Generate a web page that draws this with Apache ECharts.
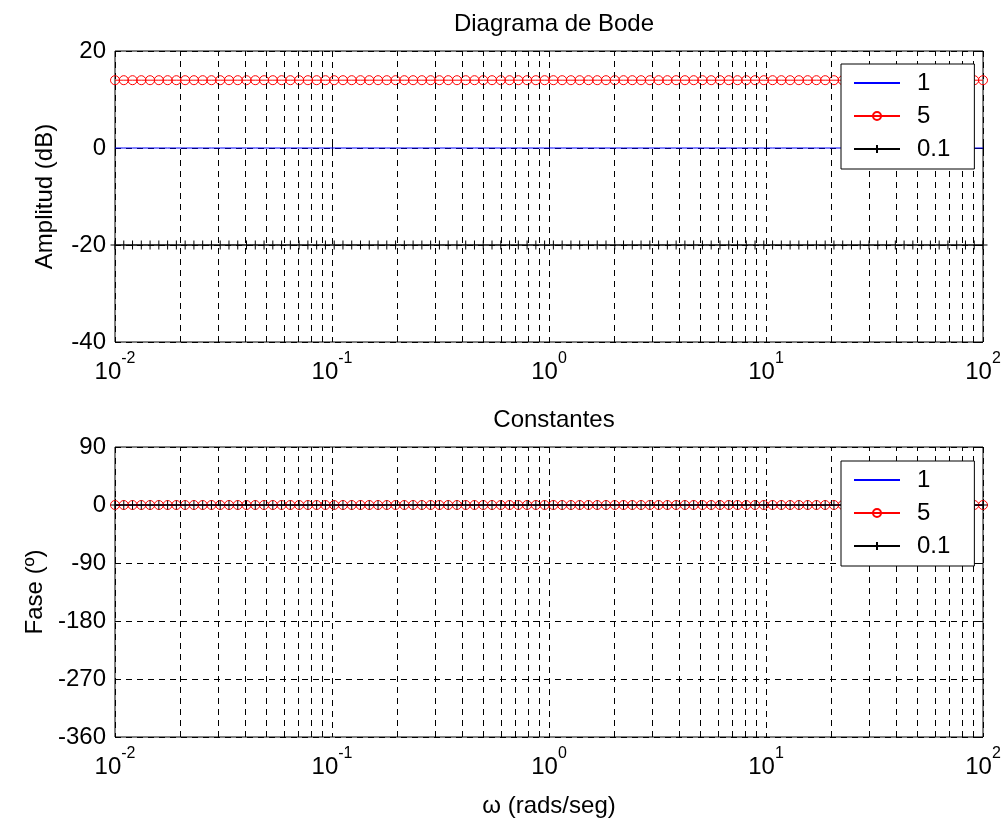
<!DOCTYPE html>
<html>
<head>
<meta charset="utf-8">
<script src="https://cdn.jsdelivr.net/npm/echarts@6/dist/echarts.min.js"></script>
<style>
html,body{margin:0;padding:0;background:#fff;}
#chart{width:1007px;height:821px;}
</style>
</head>
<body>
<div id="chart"></div>
<script>
// Frequency vector (rad/s), 100 log-spaced points from 1e-2 to 1e2
const omega = [
0.01,0.010975,0.012045,0.013219,0.014508,0.015923,0.017475,0.019179,0.021049,0.023101,
0.025354,0.027826,0.030539,0.033516,0.036784,0.04037,0.044306,0.048626,0.053367,0.05857,
0.064281,0.070548,0.077426,0.084975,0.09326,
0.10235,0.11233,0.12328,0.1353,0.14849,0.16298,0.17886,0.1963,0.21544,0.23645,
0.25951,0.28481,0.31258,0.34305,0.3765,0.4132,0.45349,0.4977,0.54623,0.59948,
0.65794,0.72208,0.79248,0.86975,0.95454,
1.0476,1.1498,1.2619,1.3848,1.5199,1.6681,1.8307,2.0092,2.2051,2.4201,
2.6561,2.9151,3.1993,3.5113,3.8535,4.2292,4.6416,5.0941,5.5908,6.1359,
6.7342,7.3907,8.1113,8.9021,9.77,
10.723,11.768,12.916,14.174,15.556,17.074,18.738,20.565,22.57,24.771,
27.186,29.837,32.746,35.938,39.442,43.287,47.508,52.14,57.224,62.802,
68.926,75.647,83.021,91.117,100
];

// Magnitude (dB) for gains 1, 5, 0.1
const mag_1 = [
0,0,0,0,0,0,0,0,0,0, 0,0,0,0,0,0,0,0,0,0, 0,0,0,0,0,0,0,0,0,0, 0,0,0,0,0,0,0,0,0,0, 0,0,0,0,0,0,0,0,0,0,
0,0,0,0,0,0,0,0,0,0, 0,0,0,0,0,0,0,0,0,0, 0,0,0,0,0,0,0,0,0,0, 0,0,0,0,0,0,0,0,0,0, 0,0,0,0,0,0,0,0,0,0
];
const mag_5 = [
13.98,13.98,13.98,13.98,13.98,13.98,13.98,13.98,13.98,13.98,
13.98,13.98,13.98,13.98,13.98,13.98,13.98,13.98,13.98,13.98,
13.98,13.98,13.98,13.98,13.98,13.98,13.98,13.98,13.98,13.98,
13.98,13.98,13.98,13.98,13.98,13.98,13.98,13.98,13.98,13.98,
13.98,13.98,13.98,13.98,13.98,13.98,13.98,13.98,13.98,13.98,
13.98,13.98,13.98,13.98,13.98,13.98,13.98,13.98,13.98,13.98,
13.98,13.98,13.98,13.98,13.98,13.98,13.98,13.98,13.98,13.98,
13.98,13.98,13.98,13.98,13.98,13.98,13.98,13.98,13.98,13.98,
13.98,13.98,13.98,13.98,13.98,13.98,13.98,13.98,13.98,13.98,
13.98,13.98,13.98,13.98,13.98,13.98,13.98,13.98,13.98,13.98
];
const mag_01 = [
-20,-20,-20,-20,-20,-20,-20,-20,-20,-20, -20,-20,-20,-20,-20,-20,-20,-20,-20,-20,
-20,-20,-20,-20,-20,-20,-20,-20,-20,-20, -20,-20,-20,-20,-20,-20,-20,-20,-20,-20,
-20,-20,-20,-20,-20,-20,-20,-20,-20,-20, -20,-20,-20,-20,-20,-20,-20,-20,-20,-20,
-20,-20,-20,-20,-20,-20,-20,-20,-20,-20, -20,-20,-20,-20,-20,-20,-20,-20,-20,-20,
-20,-20,-20,-20,-20,-20,-20,-20,-20,-20, -20,-20,-20,-20,-20,-20,-20,-20,-20,-20
];

// Phase (degrees) for gains 1, 5, 0.1
const phase_1 = [
0,0,0,0,0,0,0,0,0,0, 0,0,0,0,0,0,0,0,0,0, 0,0,0,0,0,0,0,0,0,0, 0,0,0,0,0,0,0,0,0,0, 0,0,0,0,0,0,0,0,0,0,
0,0,0,0,0,0,0,0,0,0, 0,0,0,0,0,0,0,0,0,0, 0,0,0,0,0,0,0,0,0,0, 0,0,0,0,0,0,0,0,0,0, 0,0,0,0,0,0,0,0,0,0
];
const phase_5 = [
0,0,0,0,0,0,0,0,0,0, 0,0,0,0,0,0,0,0,0,0, 0,0,0,0,0,0,0,0,0,0, 0,0,0,0,0,0,0,0,0,0, 0,0,0,0,0,0,0,0,0,0,
0,0,0,0,0,0,0,0,0,0, 0,0,0,0,0,0,0,0,0,0, 0,0,0,0,0,0,0,0,0,0, 0,0,0,0,0,0,0,0,0,0, 0,0,0,0,0,0,0,0,0,0
];
const phase_01 = [
0,0,0,0,0,0,0,0,0,0, 0,0,0,0,0,0,0,0,0,0, 0,0,0,0,0,0,0,0,0,0, 0,0,0,0,0,0,0,0,0,0, 0,0,0,0,0,0,0,0,0,0,
0,0,0,0,0,0,0,0,0,0, 0,0,0,0,0,0,0,0,0,0, 0,0,0,0,0,0,0,0,0,0, 0,0,0,0,0,0,0,0,0,0, 0,0,0,0,0,0,0,0,0,0
];

const seriesNames = ['1', '5', '0.1'];
const xTickExp = ['-2', '-1', '0', '1', '2'];
const minorGrid = [
0.02,0.03,0.04,0.05,0.06,0.07,0.08,0.09,
0.2,0.3,0.4,0.5,0.6,0.7,0.8,0.9,
2,3,4,5,6,7,8,9,
20,30,40,50,60,70,80,90
];
const titles = ['Diagrama de Bode', 'Constantes'];
const yNames = ['Amplitud (dB)', 'Fase (º)'];
const xName = 'ω (rads/seg)';

const FONT = '"Liberation Sans", Arial, sans-serif';
const FS = 24;
const dash = [6, 5];

function pairs(xs, ys) { return xs.map((x, i) => [x, ys[i]]); }

const plusPath = 'path://M5,0L5,10M0,5L10,5';
const tickStyle = { show: true, inside: true, length: 6, lineStyle: { color: '#000', width: 1 } };

function xAxisCfg(gi, showName) {
  return {
    type: 'log', logBase: 10, min: 0.01, max: 100, gridIndex: gi,
    axisLine: { show: false },
    axisTick: tickStyle,
    minorTick: { show: false },
    splitLine: { show: true, lineStyle: { color: '#000', type: dash, width: 1 } },
    axisLabel: {
      margin: 16, color: '#000', fontFamily: FONT,
      formatter: function (v, idx) { return '{b|10}{s|' + xTickExp[idx] + '}'; },
      rich: {
        b: { fontSize: FS, lineHeight: 26, verticalAlign: 'bottom', fontFamily: FONT, color: '#000' },
        s: { fontSize: 16, lineHeight: 18, verticalAlign: 'bottom', padding: [0, 0, 17, 0], fontFamily: FONT, color: '#000' }
      }
    },
    name: showName ? xName : '', nameLocation: 'middle', nameGap: 57,
    nameTextStyle: { fontSize: FS, fontFamily: FONT, color: '#000' }
  };
}
function xAxisTopCfg(gi) {
  return {
    type: 'log', logBase: 10, min: 0.01, max: 100, gridIndex: gi, position: 'top',
    axisLine: { show: false }, axisTick: tickStyle, axisLabel: { show: false },
    splitLine: { show: false }, minorTick: { show: false }
  };
}

function yAxisCfg(gi, min, max, interval, name) {
  return {
    type: 'value', gridIndex: gi, min: min, max: max, interval: interval,
    axisLine: { show: false },
    axisTick: tickStyle,
    splitLine: { show: true, lineStyle: { color: '#000', type: dash, width: 1 } },
    axisLabel: { margin: 9, fontSize: FS, color: '#000', fontFamily: FONT },
    name: name, nameLocation: 'middle', nameGap: 58, nameRotate: 90,
    nameTextStyle: { fontSize: FS, fontFamily: FONT, color: '#000' }
  };
}
function yAxisRightCfg(gi, min, max, interval) {
  return {
    type: 'value', gridIndex: gi, min: min, max: max, interval: interval, position: 'right',
    axisLine: { show: false }, axisTick: tickStyle, axisLabel: { show: false },
    splitLine: { show: false }
  };
}

function makeSeries(gi, v1, v5, v01) {
  return [
    {
      type: 'line', name: 'grid' + gi, xAxisIndex: gi, yAxisIndex: gi, data: [], z: 1,
      silent: true,
      markLine: {
        silent: true, symbol: 'none', animation: false,
        label: { show: false },
        lineStyle: { color: '#000', type: dash, width: 1 },
        data: minorGrid.map(v => ({ xAxis: v }))
      }
    },
    {
      type: 'line', name: seriesNames[0], xAxisIndex: gi, yAxisIndex: gi, z: 3,
      data: pairs(omega, v1), symbol: 'none', showSymbol: false,
      lineStyle: { color: '#0000ff', width: 1 },
      itemStyle: { color: 'rgba(0,0,0,0)' }
    },
    {
      type: 'line', name: seriesNames[1], xAxisIndex: gi, yAxisIndex: gi, z: 4,
      data: pairs(omega, v5), symbol: 'circle', symbolSize: 9, showSymbol: true, showAllSymbol: true,
      lineStyle: { color: '#ff0000', width: 1 },
      itemStyle: { color: 'rgba(0,0,0,0)', borderColor: '#ff0000', borderWidth: 1 }
    },
    {
      type: 'line', name: seriesNames[2], xAxisIndex: gi, yAxisIndex: gi, z: 5,
      data: pairs(omega, v01), symbol: plusPath, symbolSize: 9, showSymbol: true, showAllSymbol: true,
      lineStyle: { color: '#000000', width: 1 },
      itemStyle: { color: 'rgba(0,0,0,0)', borderColor: '#000000', borderWidth: 1 }
    }
  ];
}

function legendCfg(top) {
  return {
    data: seriesNames, orient: 'vertical', left: 841, top: top, z: 20,
    selectedMode: false,
    backgroundColor: '#fff', borderColor: '#000', borderWidth: 1, borderRadius: 0,
    padding: [7, 24, 8, 12],
    itemWidth: 46, itemHeight: 10, itemGap: 9,
    textStyle: { fontSize: FS, lineHeight: 24, fontFamily: FONT, color: '#000', padding: [0, 0, 0, 12] }
  };
}

const chart = echarts.init(document.getElementById('chart'), null, { renderer: 'canvas' });
chart.setOption({
  animation: false,
  backgroundColor: '#fff',
  title: [
    { text: titles[0], left: 549, top: 7, textAlign: 'center',
      textStyle: { fontSize: FS, fontWeight: 'normal', fontFamily: FONT, color: '#000' } },
    { text: titles[1], left: 549, top: 403, textAlign: 'center',
      textStyle: { fontSize: FS, fontWeight: 'normal', fontFamily: FONT, color: '#000' } }
  ],
  grid: [
    { left: 115, top: 51, width: 868, height: 291, show: true, borderColor: '#000', borderWidth: 1, backgroundColor: '#fff' },
    { left: 115, top: 447, width: 868, height: 290, show: true, borderColor: '#000', borderWidth: 1, backgroundColor: '#fff' }
  ],
  xAxis: [xAxisCfg(0, false), xAxisCfg(1, true), xAxisTopCfg(0), xAxisTopCfg(1)],
  yAxis: [yAxisCfg(0, -40, 20, 20, yNames[0]), yAxisCfg(1, -360, 90, 90, yNames[1]),
          yAxisRightCfg(0, -40, 20, 20), yAxisRightCfg(1, -360, 90, 90)],
  legend: [legendCfg(64), legendCfg(461)],
  series: [].concat(makeSeries(0, mag_1, mag_5, mag_01), makeSeries(1, phase_1, phase_5, phase_01))
});
</script>
</body>
</html>
